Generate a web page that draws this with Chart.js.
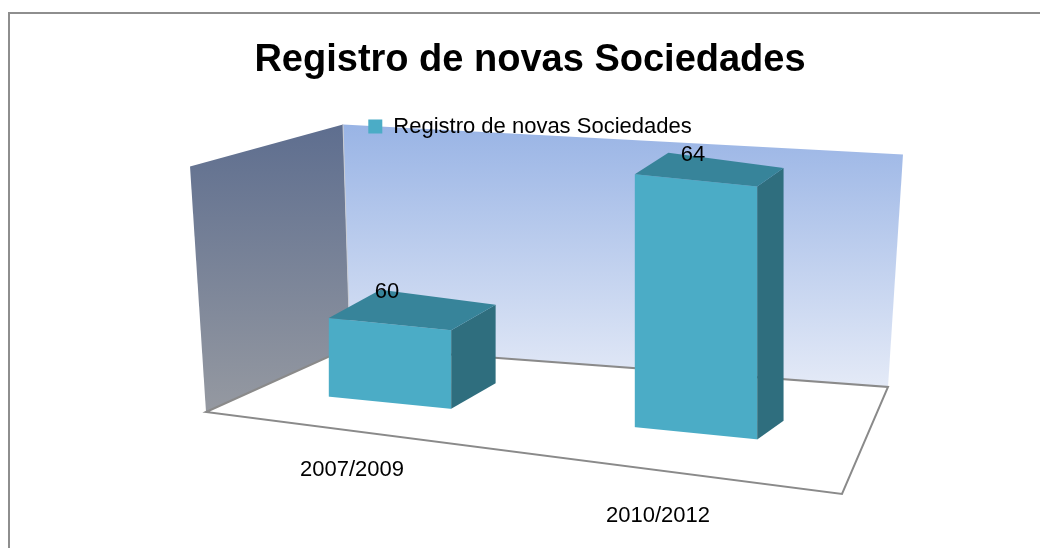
<!DOCTYPE html>
<html>
<head>
<meta charset="utf-8">
<script src="https://cdn.jsdelivr.net/npm/chart.js@4"></script>
<style>
    html, body { margin: 0; padding: 0; background: #fff; overflow: hidden; }
    canvas { display: block; }
</style>
</head>
<body>
<canvas id="sociedadesGrafigi" width="1040" height="548"></canvas>
<script>
const chartTitle = 'Registro de novas Sociedades';
const seriesName = 'Registro de novas Sociedades';
const periodLabels = ['2007/2009', '2010/2012'];
const sociedadesValues = [60, 64];
const valueAxisMin = 58.2;
const valueAxisMax = 64.4;

const FONT = "'Liberation Sans', Arial, sans-serif";
const SKEW = 0.1; // tilt of the front plane, the 3D view looks down and to the right
const frontColor = '#4BACC6';
const topColor = '#37849A';
const sideColor = '#2F6E7E';

function depthAt(x, cx) {
    // bars further right recede less (vanishing point is off to the right)
    return { dx: 39 - 0.059 * (x - cx), dy: -23.5 + 0.023 * (x - cx) };
}

function poly(ctx, pts) {
    ctx.beginPath();
    ctx.moveTo(pts[0][0], pts[0][1]);
    for (let i = 1; i < pts.length; i++) {
        ctx.lineTo(pts[i][0], pts[i][1]);
    }
    ctx.closePath();
}

const box3d = {
    id: 'box3d',
    beforeDraw(chart) {
        const ctx = chart.ctx;
        const { left: L, right: R, top: T, bottom: B } = chart.chartArea;

        ctx.save();
        ctx.fillStyle = '#fff';
        ctx.fillRect(0, 0, chart.width, chart.height);
        ctx.strokeStyle = '#8e8e8e';
        ctx.lineWidth = 2;
        ctx.strokeRect(9, 13, chart.width + 20, chart.height + 20);

        // corners of the plot box, taken from the chart area
        const fbl = [L - 31, B - 6];
        const fbr = [R - 7, B + 76];
        const bbl = [L + 113, B - 71];
        const bbr = [R + 39, B - 31];
        const btl = [L + 106, T - 23];
        const btr = [R + 54, T + 7];
        const ftl = [L - 47, T + 19];

        let g = ctx.createLinearGradient(0, btl[1], 0, fbl[1]);
        g.addColorStop(0, '#5E6E8F');
        g.addColorStop(1, '#9599A1');
        ctx.fillStyle = g;
        poly(ctx, [ftl, btl, bbl, fbl]);
        ctx.fill();

        g = ctx.createLinearGradient(0, btl[1], 0, bbr[1]);
        g.addColorStop(0, '#99B4E5');
        g.addColorStop(1, '#E4EAF7');
        ctx.fillStyle = g;
        poly(ctx, [btl, btr, bbr, bbl]);
        ctx.fill();

        ctx.strokeStyle = '#c9ccd3';
        ctx.lineWidth = 1;
        ctx.beginPath();
        ctx.moveTo(btl[0], btl[1]);
        ctx.lineTo(bbl[0], bbl[1]);
        ctx.stroke();

        ctx.fillStyle = '#fff';
        poly(ctx, [fbl, bbl, bbr, fbr]);
        ctx.fill();
        ctx.strokeStyle = '#8a8a8a';
        ctx.lineWidth = 2;
        ctx.stroke();
        ctx.restore();
    },
    beforeDatasetsDraw(chart) {
        const ctx = chart.ctx;
        const cx = (chart.chartArea.left + chart.chartArea.right) / 2;
        ctx.save();
        ctx.transform(1, SKEW, 0, 1, 0, -SKEW * cx);
    },
    afterDatasetsDraw(chart) {
        const ctx = chart.ctx;
        ctx.restore();

        const cx = (chart.chartArea.left + chart.chartArea.right) / 2;
        const yScale = chart.scales.y;
        const floorY = yScale.getPixelForValue(yScale.min);
        const toScreen = (px, py) => [px, py + SKEW * (px - cx)];
        const back = (p) => {
            const d = depthAt(p[0], cx);
            return [p[0] + d.dx, p[1] + d.dy];
        };

        const values = chart.data.datasets[0].data;
        chart.getDatasetMeta(0).data.forEach(function (bar, i) {
            const { x, y, width } = bar.getProps(['x', 'y', 'width'], true);
            const fl = toScreen(x - width / 2, y);
            const fr = toScreen(x + width / 2, y);
            const frb = toScreen(x + width / 2, floorY);

            ctx.save();
            ctx.fillStyle = sideColor;
            poly(ctx, [fr, back(fr), back(frb), frb]);
            ctx.fill();
            ctx.fillStyle = topColor;
            poly(ctx, [fl, fr, back(fr), back(fl)]);
            ctx.fill();

            const top = toScreen(x, y);
            ctx.fillStyle = '#000';
            ctx.font = '22px ' + FONT;
            ctx.textAlign = 'center';
            ctx.textBaseline = 'middle';
            ctx.fillText(String(values[i]), x - 3, top[1] + depthAt(x, cx).dy - 5);
            ctx.restore();
        });
    }
};

const ctx = document.getElementById('sociedadesGrafigi').getContext('2d');
new Chart(ctx, {
    type: 'bar',
    data: {
        labels: periodLabels,
        datasets: [{
            label: seriesName,
            data: sociedadesValues,
            backgroundColor: frontColor,
            borderWidth: 0,
            barPercentage: 0.4,
            categoryPercentage: 1.0
        }]
    },
    options: {
        responsive: false,
        animation: false,
        events: [],
        layout: {
            padding: { top: 18, left: 211, right: 191, bottom: 9 }
        },
        plugins: {
            title: {
                display: true,
                text: chartTitle,
                color: '#000',
                font: { family: FONT, size: 38, weight: 'bold', lineHeight: 1.2 },
                padding: { top: 20, bottom: 22 }
            },
            legend: {
                display: true,
                position: 'top',
                labels: {
                    boxWidth: 14,
                    boxHeight: 14,
                    padding: 10,
                    color: '#000',
                    font: { family: FONT, size: 22 }
                }
            },
            tooltip: { enabled: false }
        },
        scales: {
            x: {
                grid: { display: false },
                border: { display: false },
                ticks: {
                    color: '#000',
                    font: { family: FONT, size: 22, lineHeight: 2.1 },
                    padding: 21,
                    labelOffset: -38,
                    maxRotation: 0,
                    autoSkip: false,
                    callback: function (value, index) {
                        // later categories sit lower, along the receding floor edge
                        const label = this.getLabelForValue(value);
                        return Array(index).fill('').concat([label]);
                    }
                },
                afterFit: function (scale) {
                    scale.height = 121;
                }
            },
            y: {
                min: valueAxisMin,
                max: valueAxisMax,
                grid: { display: false },
                border: { display: false },
                ticks: { display: false },
                afterFit: function (scale) {
                    scale.width = 26;
                }
            }
        }
    },
    plugins: [box3d]
});
</script>
</body>
</html>
